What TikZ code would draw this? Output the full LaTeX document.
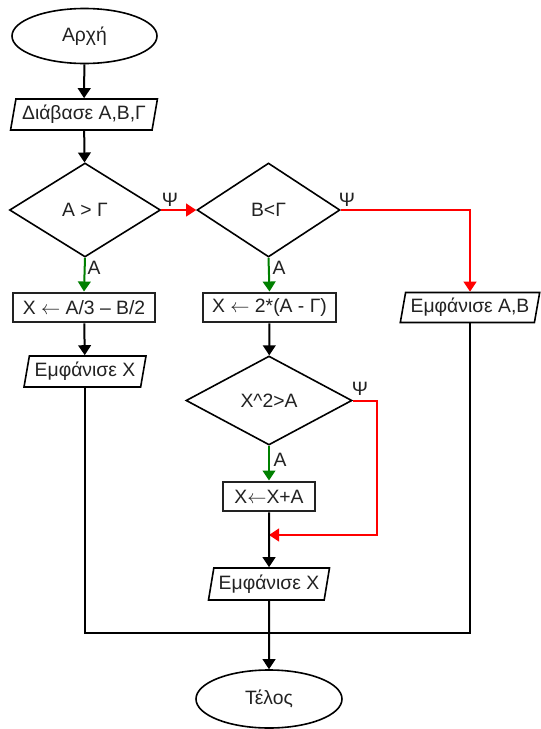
\documentclass[tikz,border=0pt]{standalone}
\usepackage{fontspec}
\setmainfont{Liberation Sans}
\usetikzlibrary{shapes.geometric,arrows.meta}

\definecolor{ink}{HTML}{222222}
\definecolor{yesgreen}{HTML}{008000}
\definecolor{nored}{HTML}{FF0000}

\tikzset{
  base/.style={draw=black, line width=1.2pt, text=ink, inner sep=0pt},
  terminal/.style={base, ellipse},
  iobox/.style={base, trapezium, trapezium left angle=75, trapezium right angle=105,
    trapezium stretches=true, inner xsep=1pt},
  procbox/.style={base, rectangle, draw=ink, line width=2.2pt},
  decision/.style={base, diamond, aspect=1.6},
  flow/.style={draw=black, line width=1.5pt, -{Triangle[width=9.5pt,length=7.5pt]}},
  plain/.style={draw=black, line width=1.5pt},
  yesflow/.style={flow, draw=yesgreen, -{Triangle[width=9.5pt,length=7.5pt,fill=yesgreen]}},
  noflow/.style={flow, draw=nored, -{Triangle[width=9.5pt,length=7.5pt,fill=nored]}},
  tag/.style={text=ink, inner sep=0pt}
}

\begin{document}
\begin{tikzpicture}[x=0.75pt, y=-0.75pt, font=\fontsize{14.5}{17}\selectfont]
  \useasboundingbox (0,0) rectangle (540,729);
  \fill[white] (0,0) rectangle (540,729);

  % nodes
  \node[terminal, minimum width=108.75pt, minimum height=41.25pt] (start) at (84.5,36) {Αρχή};
  \node[iobox, minimum width=110.25pt, minimum height=23.25pt] (read) at (84,114.5) {Διάβασε Α,Β,Γ};
  \node[decision, minimum width=113.25pt, minimum height=70.5pt] (d1) at (85,210) {A > Γ};
  \node[decision, minimum width=107.25pt, minimum height=70.5pt] (d2) at (268.5,210) {B<Γ};
  \node[procbox, minimum width=106.5pt, minimum height=21.75pt] (r1) at (84,307.5) {X $\leftarrow$ A/3 – B/2};
  \node[procbox, minimum width=99.75pt, minimum height=21.75pt] (r2) at (269.5,307.5) {X $\leftarrow$ 2*(A - Γ)};
  \node[iobox, minimum width=105pt, minimum height=22.5pt] (outab) at (470,307.5) {Εμφάνισε Α,Β};
  \node[iobox, minimum width=92.25pt, minimum height=23.25pt] (out1) at (85,371.5) {Εμφάνισε Χ};
  \node[decision, minimum width=124.5pt, minimum height=66.75pt] (d3) at (269,400.5) {X\^{}2>A};
  \node[procbox, minimum width=69pt, minimum height=21.75pt] (r3) at (269,496.5) {X$\leftarrow$X+A};
  \node[iobox, minimum width=91.5pt, minimum height=24pt] (out2) at (269,584) {Εμφάνισε Χ};
  \node[terminal, minimum width=109.5pt, minimum height=43.5pt] (finish) at (269,699) {Τέλος};

  % branch labels
  \node[tag] (psi1) at (170,200) {Ψ};
  \node[tag] (psi2) at (347,200) {Ψ};
  \node[tag] (psi3) at (360,389) {Ψ};
  \node[tag] (yes1) at (94,268) {A};
  \node[tag] (yes2) at (279,268) {A};
  \node[tag] (yes3) at (280,460) {A};

  % junction points
  \coordinate (merge) at (269,535);
  \coordinate (join) at (269,633);

  % main flow
  \draw[flow] (start) -- (read);
  \draw[flow] (read) -- (d1);
  \draw[noflow] (d1.east) -- (d2.west);
  \draw[yesflow] (d1.south) -- (r1.north);
  \draw[flow] (r1) -- (out1);
  \draw[yesflow] (d2.south) -- (r2.north);
  \draw[noflow] (d2.east) -| (outab.north);
  \draw[flow] (r2) -- (d3);
  \draw[yesflow] (d3.south) -- (r3.north);
  \draw[noflow] (d3.east) -- ++(24,0) |- (merge);
  \draw[flow] (r3) -- (out2);
  \draw[plain] (out1.south) |- (join) -| (outab.south);
  \draw[flow] (out2) -- (finish);
\end{tikzpicture}
\end{document}
